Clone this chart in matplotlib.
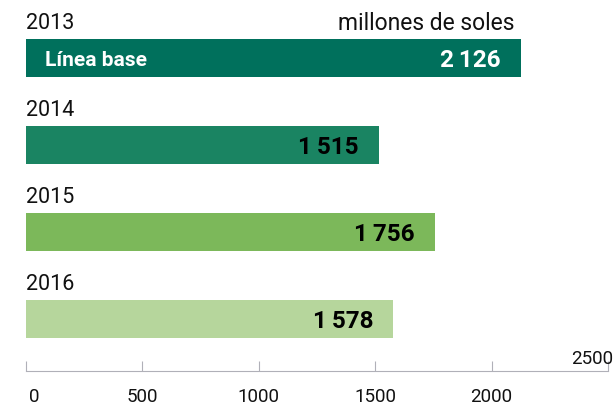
import matplotlib
matplotlib.use("Agg")
import matplotlib.pyplot as plt
from matplotlib.transforms import ScaledTranslation

plt.rcParams['font.family'] = ['Roboto', 'DejaVu Sans']

# Data
years = ["2013", "2014", "2015", "2016"]
values = [2126, 1515, 1756, 1578]
colors = ["#00705c", "#1a8462", "#7cb85a", "#b6d69c"]
value_colors = ["white", "black", "black", "black"]
tick_values = [0, 500, 1000, 1500, 2000, 2500]

fig = plt.figure(figsize=(6.16, 4.08), dpi=100)
ax = fig.add_axes([0, 0, 1, 1])

pos = list(range(len(years)))
ax.barh(pos, values, height=0.44, color=colors, left=0)

# Year labels above each bar, values inside the bar end
for i, (yr, v) in enumerate(zip(years, values)):
    ax.text(0, i - 0.40, yr, fontsize=15.5, ha="left", va="center", color="#111111")
    label = f"{v:,}".replace(",", "\u2009")
    ax.text(v - 86, i + 0.02, label, fontsize=17.5, fontweight="bold",
            ha="right", va="center", color=value_colors[i])

ax.text(80, 0.02, "Línea base", fontsize=15, fontweight="bold",
        ha="left", va="center", color="white")
ax.text(2100, -0.40, "millones de soles", fontsize=16.5, ha="right",
        va="center", color="#111111")

# Axis at the bottom, ticks pointing up
ax.set_xlim(-112, 2534)
ax.set_ylim(4.02, -0.67)
for s in ["top", "left", "right"]:
    ax.spines[s].set_visible(False)
ax.spines["bottom"].set_position(("data", 3.6))
ax.spines["bottom"].set_bounds(0, 2500)
ax.spines["bottom"].set_color("#b0b0b8")
ax.set_yticks([])
ax.set_xticks(tick_values)
ax.set_xticklabels([str(t) if t < 2500 else "" for t in tick_values])
ax.tick_params(axis="x", direction="in", length=7, color="#b0b0b8",
               labelsize=13.5, pad=12, labelcolor="#111111")
# the "0" label sits a little right of its tick in the original
lab0 = ax.xaxis.get_major_ticks()[0].label1
lab0.set_transform(lab0.get_transform() + ScaledTranslation(6 / 72, 0, fig.dpi_scale_trans))
ax.text(2430, 3.46, "2500", fontsize=13.5, ha="center", va="center",
        color="#111111")

fig.savefig("out.png", dpi=100)
